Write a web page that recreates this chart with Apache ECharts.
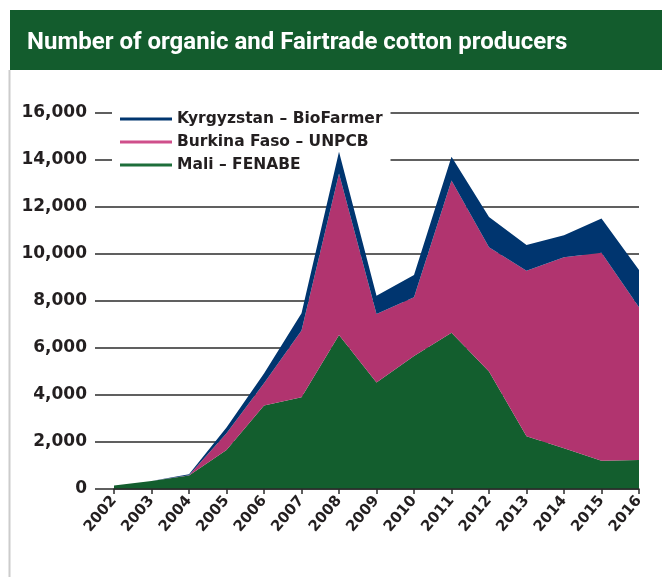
<!DOCTYPE html>
<html>
<head>
<meta charset="utf-8">
<script src="https://cdn.jsdelivr.net/npm/echarts@6/dist/echarts.min.js"></script>
<style>
  html, body { margin: 0; padding: 0; background: #fff; }
  #chart { width: 662px; height: 577px; }
</style>
</head>
<body>
<div id="chart"></div>
<script>
// years on the x axis
var years = ['2002', '2003', '2004', '2005', '2006', '2007', '2008', '2009',
    '2010', '2011', '2012', '2013', '2014', '2015', '2016'];
// producers per project (stacked)
var mali = [150, 340, 570, 1660, 3550, 3900, 6550, 4530, 5660, 6650, 5000, 2250, 1730, 1200, 1230];
var burkina = [0, 0, 20, 710, 950, 2840, 6880, 2920, 2500, 6480, 5290, 7040, 8130, 8850, 6500];
var kyrgyz = [0, 0, 35, 250, 420, 740, 920, 770, 950, 1010, 1280, 1090, 940, 1460, 1590];

var seriesNames = ['Mali – FENABE', 'Burkina Faso – UNPCB', 'Kyrgyzstan – BioFarmer'];
var seriesColors = ['#135e2e', '#b1346f', '#00356f'];
var legendColors = ['#1d6e3a', '#cf4f8b', '#00356f'];

var myChart = echarts.init(document.getElementById('chart'));

var areaSeries = [];
var values = [mali, burkina, kyrgyz];
for (var i = 0; i < values.length; i++) {
    areaSeries.push({
        name: seriesNames[i],
        type: 'line',
        stack: 'total',
        data: values[i],
        symbol: 'none',
        lineStyle: { width: 0 },
        areaStyle: { color: seriesColors[i], opacity: 1 },
        itemStyle: { color: legendColors[i] },
        silent: true,
        z: 3
    });
}

var textColor = '#231f20';
var labelFont = 'DejaVu Sans, sans-serif';

var option = {
    animation: false,
    title: {
        text: 'Number of organic and Fairtrade cotton producers',
        left: 22,
        top: 26,
        textStyle: {
            color: '#fff',
            fontFamily: 'Liberation Sans Narrow, Roboto, sans-serif',
            fontWeight: 'bold',
            fontSize: 24
        }
    },
    graphic: [
        {
            type: 'rect',
            z: -1,
            shape: { x: 10, y: 10, width: 652, height: 60 },
            style: { fill: '#135c2d' }
        },
        {
            type: 'line',
            shape: { x1: 9.5, y1: 70, x2: 9.5, y2: 577 },
            style: { stroke: '#cccccc', lineWidth: 2 }
        }
    ],
    legend: {
        orient: 'vertical',
        left: 112,
        top: 109,
        padding: [2, 8, 2, 8],
        backgroundColor: '#fff',
        itemWidth: 52,
        itemHeight: 3,
        itemGap: 7,
        icon: 'rect',
        data: ['Kyrgyzstan – BioFarmer', 'Burkina Faso – UNPCB', 'Mali – FENABE'],
        textStyle: {
            color: textColor,
            fontFamily: labelFont,
            fontWeight: 'bold',
            fontSize: 15.5,
            lineHeight: 16
        },
        z: 1
    },
    grid: {
        left: 114,
        right: 23,
        top: 113,
        bottom: 88
    },
    xAxis: {
        type: 'category',
        data: years,
        boundaryGap: false,
        axisLine: { lineStyle: { color: '#2b2b2b', width: 1.5 } },
        axisTick: { length: 5, lineStyle: { color: '#2b2b2b', width: 1.5 } },
        axisLabel: {
            rotate: 50,
            margin: 9,
            color: textColor,
            fontFamily: labelFont,
            fontWeight: 'bold',
            fontSize: 15
        },
        splitLine: { show: false },
        z: 4
    },
    yAxis: {
        type: 'value',
        min: 0,
        max: 16000,
        interval: 2000,
        axisLine: { show: false },
        axisTick: { show: true, length: 19, lineStyle: { color: '#2b2b2b', width: 1.5 } },
        axisLabel: {
            margin: 27,
            color: textColor,
            fontFamily: labelFont,
            fontWeight: 'bold',
            fontSize: 17,
            formatter: function (v) {
                return v.toLocaleString('en-US');
            }
        },
        splitLine: { lineStyle: { color: '#2b2b2b', width: 1.5 } }
    },
    series: areaSeries
};

myChart.setOption(option);
</script>
</body>
</html>
